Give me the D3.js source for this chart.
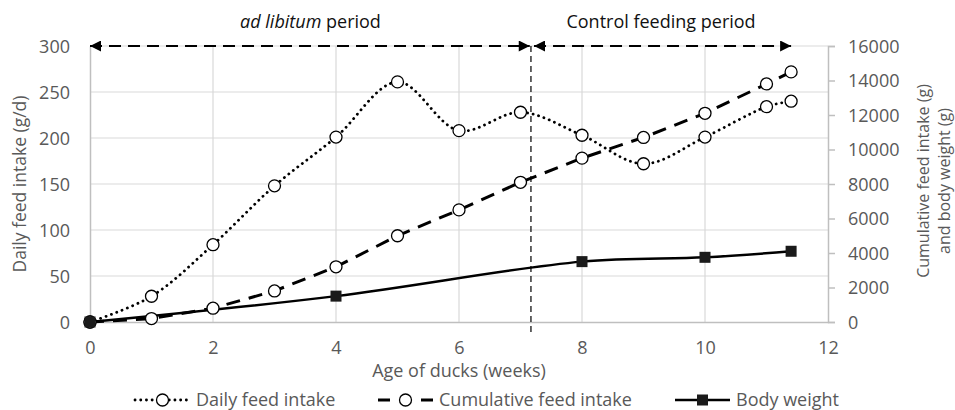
<!DOCTYPE html>
<html>
<head>
<meta charset="utf-8">
<script src="https://cdn.jsdelivr.net/npm/d3@7"></script>
<style>
  body { margin: 0; background: #fff; }
  svg text { font-family: "Open Sans", "Noto Sans", sans-serif; }
</style>
</head>
<body>
<div id="chart"></div>
<script>
// data
var dailyWeeks = [0, 1, 2, 3, 4, 5, 6, 7, 8, 9, 10, 11, 11.4];
var dailyIntake = [0, 28, 84, 148, 201, 261, 208, 228, 203, 172, 201, 234, 240];
var cumWeeks = [0, 1, 2, 3, 4, 5, 6, 7, 8, 9, 10, 11, 11.4];
var cumIntake = [0, 200, 800, 1800, 3200, 5000, 6500, 8100, 9500, 10700, 12100, 13800, 14500];
var bwWeeks = [0, 4, 8, 10, 11.4];
var bodyWeight = [0, 1500, 3500, 3750, 4100];
var xTicks = [0, 2, 4, 6, 8, 10, 12];
var leftTicks = [0, 50, 100, 150, 200, 250, 300];
var rightTicks = [0, 2000, 4000, 6000, 8000, 10000, 12000, 14000, 16000];
var splitWeek = 7.17;
var arrowEnd = 11.4;

var width = 955, height = 410;
var margin = {left: 90, right: 127, top: 46, bottom: 88};

var svg = d3.select("#chart").append("svg")
    .attr("width", width)
    .attr("height", height);

var x = d3.scaleLinear().domain([0, 12]).range([margin.left, width - margin.right]);
var yL = d3.scaleLinear().domain([0, 300]).range([height - margin.bottom, margin.top]);
var yR = d3.scaleLinear().domain([0, 16000]).range([height - margin.bottom, margin.top]);

var grey = "#595959", gridCol = "#d9d9d9", axisCol = "#bfbfbf";
var fs = "18px";

// gridlines
svg.append("g").selectAll("line.h").data(leftTicks.slice(1)).enter().append("line")
    .attr("x1", x(0)).attr("x2", x(12))
    .attr("y1", d => yL(d)).attr("y2", d => yL(d))
    .attr("stroke", gridCol).attr("stroke-width", 1.2);
svg.append("g").selectAll("line.v").data(xTicks.slice(1, -1)).enter().append("line")
    .attr("x1", d => x(d)).attr("x2", d => x(d))
    .attr("y1", yL(0)).attr("y2", yL(300))
    .attr("stroke", gridCol).attr("stroke-width", 1.2);

// axes
var leftAxis = svg.append("g").attr("transform", "translate(" + x(0) + ",0)")
    .call(d3.axisLeft(yL).tickValues(leftTicks).tickSize(0).tickPadding(20));
var rightAxis = svg.append("g").attr("transform", "translate(" + x(12) + ",0)")
    .call(d3.axisRight(yR).tickValues(rightTicks).tickFormat(d3.format("d")).tickSize(7).tickPadding(13));
var bottomAxis = svg.append("g").attr("transform", "translate(0," + yL(0) + ")")
    .call(d3.axisBottom(x).tickValues(xTicks).tickSize(0).tickPadding(19));

[leftAxis, rightAxis, bottomAxis].forEach(a => {
    a.select(".domain").attr("stroke", axisCol).attr("stroke-width", 1.5);
    a.selectAll(".tick line").attr("stroke", axisCol).attr("stroke-width", 1.5);
    a.selectAll(".tick text").attr("fill", grey).style("font-size", fs);
});
leftAxis.selectAll(".tick text").attr("dy", "0.35em");
rightAxis.selectAll(".tick text").attr("dy", "0.35em");

// axis titles
svg.append("text")
    .attr("transform", "translate(20," + yL(150) + ") rotate(-90)")
    .attr("text-anchor", "middle").attr("dy", "0.35em")
    .attr("fill", grey).style("font-size", "17.5px")
    .text("Daily feed intake (g/d)");
svg.append("text")
    .attr("transform", "translate(923," + (yL(150) - 3) + ") rotate(-90)")
    .attr("text-anchor", "middle").attr("dy", "0.35em")
    .attr("fill", grey).style("font-size", "16px")
    .text("Cumulative feed intake (g)");
svg.append("text")
    .attr("transform", "translate(944," + (yL(150) - 3) + ") rotate(-90)")
    .attr("text-anchor", "middle").attr("dy", "0.35em")
    .attr("fill", grey).style("font-size", "16px")
    .text("and body weight (g)");
svg.append("text")
    .attr("x", (x(0) + x(12)) / 2).attr("y", 371)
    .attr("text-anchor", "middle").attr("dy", "0.35em")
    .attr("fill", grey).style("font-size", fs)
    .text("Age of ducks (weeks)");

// period marker
svg.append("line")
    .attr("x1", x(splitWeek)).attr("x2", x(splitWeek))
    .attr("y1", yL(300)).attr("y2", yL(0) + 12)
    .attr("stroke", "#000").attr("stroke-width", 1.2)
    .attr("stroke-dasharray", "6,4");

var defs = svg.append("defs");
defs.append("marker").attr("id", "arr")
    .attr("viewBox", "0 0 10 10").attr("refX", 10).attr("refY", 5)
    .attr("markerWidth", 6).attr("markerHeight", 5)
    .attr("markerUnits", "strokeWidth")
    .attr("orient", "auto-start-reverse")
    .append("path").attr("d", "M0,0L10,5L0,10z").attr("fill", "#000");

function periodArrow(a, b) {
    svg.append("line")
        .attr("x1", x(a)).attr("x2", x(b))
        .attr("y1", yL(300)).attr("y2", yL(300))
        .attr("stroke", "#000").attr("stroke-width", 2.2)
        .attr("stroke-dasharray", "12,7")
        .attr("marker-start", "url(#arr)")
        .attr("marker-end", "url(#arr)");
}
periodArrow(0, splitWeek - 0.02);
periodArrow(splitWeek + 0.05, arrowEnd);

var t1 = svg.append("text")
    .attr("x", (x(0) + x(splitWeek)) / 2).attr("y", 22)
    .attr("text-anchor", "middle").attr("dy", "0.35em")
    .attr("fill", "#111").style("font-size", fs);
t1.append("tspan").style("font-style", "italic").text("ad libitum");
t1.append("tspan").text(" period");
svg.append("text")
    .attr("x", (x(splitWeek) + x(arrowEnd)) / 2).attr("y", 22)
    .attr("text-anchor", "middle").attr("dy", "0.35em")
    .attr("fill", "#111").style("font-size", fs)
    .text("Control feeding period");

// series
var dailyPts = dailyWeeks.map((w, i) => [w, dailyIntake[i]]);
var cumPts = cumWeeks.map((w, i) => [w, cumIntake[i]]);
var bwPts = bwWeeks.map((w, i) => [w, bodyWeight[i]]);

var lineL = d3.line().x(d => x(d[0])).y(d => yL(d[1])).curve(d3.curveCatmullRom.alpha(0.5));
var lineR = d3.line().x(d => x(d[0])).y(d => yR(d[1]));
var lineRs = d3.line().x(d => x(d[0])).y(d => yR(d[1])).curve(d3.curveCatmullRom.alpha(0.5));

var dotted = {dash: "0.1,5.6", width: 2.8, cap: "round"};
var dashed = {dash: "14,9", width: 3, cap: "butt"};

svg.append("path").attr("d", lineL(dailyPts))
    .attr("fill", "none").attr("stroke", "#000")
    .attr("stroke-width", dotted.width).attr("stroke-linecap", dotted.cap)
    .attr("stroke-dasharray", dotted.dash);
svg.append("path").attr("d", lineR(cumPts))
    .attr("fill", "none").attr("stroke", "#000")
    .attr("stroke-width", dashed.width).attr("stroke-dasharray", dashed.dash);
svg.append("path").attr("d", lineRs(bwPts))
    .attr("fill", "none").attr("stroke", "#000").attr("stroke-width", 2.5);

svg.append("g").selectAll("circle").data(dailyPts).enter().append("circle")
    .attr("cx", d => x(d[0])).attr("cy", d => yL(d[1])).attr("r", 6)
    .attr("fill", "#fff").attr("stroke", "#000").attr("stroke-width", 1.3);
svg.append("g").selectAll("circle").data(cumPts).enter().append("circle")
    .attr("cx", d => x(d[0])).attr("cy", d => yR(d[1])).attr("r", 6)
    .attr("fill", "#fff").attr("stroke", "#000").attr("stroke-width", 1.3);
svg.append("g").selectAll("rect").data(bwPts).enter().append("rect")
    .attr("x", d => x(d[0]) - 5.5).attr("y", d => yR(d[1]) - 5.5)
    .attr("width", 11).attr("height", 11).attr("fill", "#1a1a1a");

// legend
var legendY = 400;
var legendItems = [
    {label: "Daily feed intake", x0: 135, style: dotted, mark: "circle"},
    {label: "Cumulative feed intake", x0: 378, style: dashed, mark: "circle"},
    {label: "Body weight", x0: 675, style: null, mark: "rect"}
];
var lg = svg.append("g");
legendItems.forEach(it => {
    var g = lg.append("g");
    var ln = g.append("line").attr("x1", it.x0).attr("x2", it.x0 + 55)
        .attr("y1", legendY).attr("y2", legendY)
        .attr("stroke", "#000");
    if (it.style) {
        ln.attr("stroke-width", it.style.width)
          .attr("stroke-linecap", it.style.cap)
          .attr("stroke-dasharray", it.style === dashed ? "12,31" : it.style.dash);
    } else {
        ln.attr("stroke-width", 2.5);
    }
    if (it.mark === "circle") {
        g.append("circle").attr("cx", it.x0 + 27.5).attr("cy", legendY).attr("r", 6)
            .attr("fill", "#fff").attr("stroke", "#000").attr("stroke-width", 1.3);
    } else {
        g.append("rect").attr("x", it.x0 + 22).attr("y", legendY - 5.5)
            .attr("width", 11).attr("height", 11).attr("fill", "#1a1a1a");
    }
    g.append("text").attr("x", it.x0 + 61).attr("y", legendY)
        .attr("dy", "0.35em").attr("fill", grey).style("font-size", fs)
        .text(it.label);
});
</script>
</body>
</html>
